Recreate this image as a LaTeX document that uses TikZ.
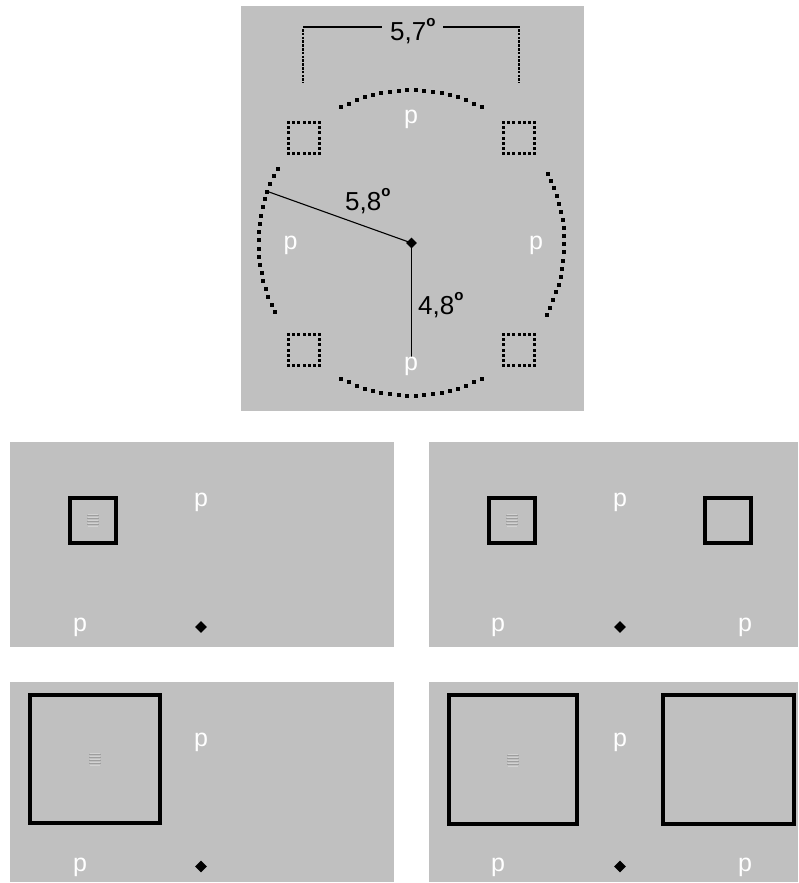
\documentclass[tikz,border=0pt]{standalone}
\usepackage{fontspec}
\setmainfont{Liberation Sans}
\usetikzlibrary{shapes.geometric}
\definecolor{panelgray}{RGB}{192,192,192}
\definecolor{gratdark}{RGB}{158,158,158}
\definecolor{gratlight}{RGB}{210,210,210}
\newcommand{\degsym}{\raisebox{14pt}{\fontsize{15}{15}\selectfont\bfseries o}}
\begin{document}
\begin{tikzpicture}[x=1pt,y=-1pt,
  panel/.style={fill=panelgray,draw=none},
  ptext/.style={text=white,font=\fontsize{25}{30}\selectfont,anchor=base,inner sep=0pt},
  numtext/.style={text=black,font=\fontsize{26}{30}\selectfont,anchor=base west,inner sep=0pt},
  fixdot/.style={shape=diamond,fill=black,draw=none,inner sep=0pt,minimum size=12pt},
  bigbox/.style={draw=black,line width=4pt},
  arcdot/.style={fill=black},
  grat/.pic={
    \foreach \dy in {-4.5,-1.5,1.5,4.5} {\draw[gratdark,line width=1pt] (-6,\dy) -- (6,\dy);}
    \foreach \dy in {-6,-3,0,3,6} {\draw[gratlight,line width=1pt] (-5,\dy) -- (5,\dy);}
  }]
\useasboundingbox (0,0) rectangle (799,883);
\fill[white] (0,0) rectangle (799,883);

% ---------- top panel ----------
\fill[panel] (241,6) rectangle (584,411);

% bracket 5,7
\draw[line width=1.3pt] (303,27) -- (382,27);
\draw[line width=1.3pt] (443,27) -- (520,27);
\draw[line width=2.6pt,dash pattern=on 2.6pt off 1.2pt] (303,29) -- (303,83);
\draw[line width=2.6pt,dash pattern=on 2.6pt off 1.2pt] (519,29) -- (519,83);
\node[numtext] (t57) at (390,40.7) {5,7\degsym};

% dotted arcs (circle centre 411.5,243 ; r 153)
\foreach \i in {0,...,17} {
  \pgfmathsetmacro{\a}{62.5+\i*55/17}
  \fill[arcdot] ({411.5+153*cos(\a)-2},{243-153*sin(\a)-2}) rectangle ++(4,4);
  \pgfmathsetmacro{\b}{-117.5+\i*55/17}
  \fill[arcdot] ({411.5+153*cos(\b)-2},{243-153*sin(\b)-2}) rectangle ++(4,4);
}
\foreach \i in {0,...,18} {
  \pgfmathsetmacro{\a}{151+\i*56/18}
  \fill[arcdot] ({411.5+153*cos(\a)-2},{243-153*sin(\a)-2}) rectangle ++(4,4);
  \pgfmathsetmacro{\b}{-28+\i*55/18}
  \fill[arcdot] ({411.5+153*cos(\b)-2},{243-153*sin(\b)-2}) rectangle ++(4,4);
}

% dotted squares
\foreach \cx/\cy in {304/138,519/138,304/350,519/350} {
  \foreach \k in {0,...,6} {
    \pgfmathsetmacro{\o}{-15.5+\k*31/6}
    \fill[black] ({\cx+\o-1.5},{\cy-15.5-1.5}) rectangle ++(3,3);
    \fill[black] ({\cx+\o-1.5},{\cy+15.5-1.5}) rectangle ++(3,3);
    \fill[black] ({\cx-15.5-1.5},{\cy+\o-1.5}) rectangle ++(3,3);
    \fill[black] ({\cx+15.5-1.5},{\cy+\o-1.5}) rectangle ++(3,3);
  }
}

% centre and radii
\node[fixdot,minimum size=11pt] (c0) at (411.5,243) {};
\coordinate (rimL) at ({411.5+153*cos(160.3)},{243-153*sin(160.3)});
\coordinate (rimB) at (411.5,358);
\draw[line width=1.1pt] (c0.center) -- (rimL);
\draw[line width=1.6pt] (c0.center) -- (rimB);
\node[numtext] (t58) at (345,210) {5,8\degsym};
\node[numtext] (t48) at (418,314) {4,8\degsym};

\node[ptext] (pt) at (411,123) {p};
\node[ptext] (pl) at (290.5,249) {p};
\node[ptext] (pr) at (536,249) {p};
\node[ptext] (pb) at (411,370) {p};

% ---------- panel 1 ----------
\fill[panel] (10,442) rectangle (394,647);
\draw[bigbox] (69.7,497.7) rectangle (116.3,543);
\pic at (93,520) {grat};
\node[ptext] (p1a) at (201,506) {p};
\node[ptext] (p1b) at (80,631) {p};
\node[fixdot] (c1) at (201,627) {};

% ---------- panel 2 ----------
\fill[panel] (429,442) rectangle (798,647);
\draw[bigbox] (488.7,497.7) rectangle (535.3,543);
\pic at (512,520) {grat};
\draw[bigbox] (704.7,497.7) rectangle (751.3,543);
\node[ptext] (p2a) at (620,506) {p};
\node[ptext] (p2b) at (498,631) {p};
\node[ptext] (p2c) at (745,631) {p};
\node[fixdot] (c2) at (620,627) {};

% ---------- panel 3 ----------
\fill[panel] (10,682) rectangle (394,882);
\draw[bigbox] (30,695.3) rectangle (160,823);
\pic at (95,759) {grat};
\node[ptext] (p3a) at (201,746) {p};
\node[ptext] (p3b) at (80,871) {p};
\node[fixdot] (c3) at (201,866.5) {};

% ---------- panel 4 ----------
\fill[panel] (429,682) rectangle (798,882);
\draw[bigbox] (448.7,695.3) rectangle (577.3,823.7);
\pic at (513,760) {grat};
\draw[bigbox] (663,695.3) rectangle (794,823.7);
\node[ptext] (p4a) at (620,746) {p};
\node[ptext] (p4b) at (498,871) {p};
\node[ptext] (p4c) at (745,871) {p};
\node[fixdot] (c4) at (620,866.5) {};
\end{tikzpicture}
\end{document}
